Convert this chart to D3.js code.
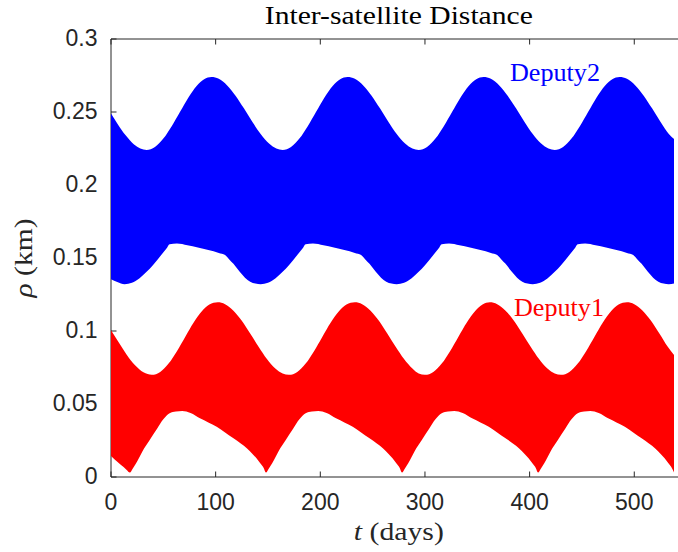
<!DOCTYPE html>
<html>
<head>
<meta charset="utf-8">
<script src="https://cdn.jsdelivr.net/npm/d3@7/dist/d3.min.js"></script>
<style>
  html, body { margin: 0; padding: 0; background: #fff; }
  svg { display: block; }
</style>
</head>
<body>
<svg id="chart" width="678" height="552"></svg>
<script>
// ---------------- data ----------------
const xTicks = [0, 100, 200, 300, 400, 500];
const yTicks = [0, 0.05, 0.1, 0.15, 0.2, 0.25, 0.3];
const yTickLabels = ["0", "0.05", "0.1", "0.15", "0.2", "0.25", "0.3"];
const seriesNames = ["Deputy1", "Deputy2"];

// Deputy2 (blue) upper envelope
const d2UpperT = [0, 6, 14, 22, 28, 34,
  42, 50, 58, 66, 74, 82, 89, 96, 103, 111, 119, 127, 135, 143, 151, 158, 164,
  172, 180, 188, 196, 204, 212, 219, 226, 233, 241, 249, 257, 265, 273, 281, 288, 294,
  302, 310, 318, 326, 334, 342, 349, 356, 363, 371, 379, 387, 395, 403, 411, 418, 424,
  432, 440, 448, 456, 464, 472, 479, 486, 493, 501, 509, 517, 525, 533, 538];
const d2Upper = [0.2490, 0.2422, 0.2340, 0.2278, 0.2250, 0.2240,
  0.2260, 0.2318, 0.2403, 0.2502, 0.2600, 0.2680, 0.2725, 0.2740, 0.2727, 0.2682, 0.2612, 0.2525, 0.2433, 0.2349, 0.2284, 0.2250, 0.2240,
  0.2260, 0.2318, 0.2403, 0.2502, 0.2600, 0.2680, 0.2725, 0.2740, 0.2727, 0.2682, 0.2612, 0.2525, 0.2433, 0.2349, 0.2284, 0.2250, 0.2240,
  0.2260, 0.2318, 0.2403, 0.2502, 0.2600, 0.2680, 0.2725, 0.2740, 0.2727, 0.2682, 0.2612, 0.2525, 0.2433, 0.2349, 0.2284, 0.2250, 0.2240,
  0.2260, 0.2318, 0.2403, 0.2502, 0.2600, 0.2680, 0.2725, 0.2740, 0.2727, 0.2682, 0.2612, 0.2525, 0.2433, 0.2349, 0.2315];

// Deputy2 (blue) lower envelope
const d2LowerT = [0, 6, 13,
  20, 27, 34, 40, 48, 53, 56, 63, 73, 83, 93, 103, 109, 113, 117, 123, 128, 133, 138, 143,
  150, 157, 164, 170, 178, 183, 186, 193, 203, 213, 223, 233, 239, 243, 247, 253, 258, 263, 268, 273,
  280, 287, 294, 300, 308, 313, 316, 323, 333, 343, 353, 363, 369, 373, 377, 383, 388, 393, 398, 403,
  410, 417, 424, 430, 438, 443, 446, 453, 463, 473, 483, 493, 499, 503, 507, 513, 518, 523, 528, 533, 538];
const d2Lower = [0.1355, 0.1335, 0.1320,
  0.1330, 0.1360, 0.1405, 0.1450, 0.1520, 0.1565, 0.1595, 0.1600, 0.1588, 0.1572, 0.1555, 0.1535, 0.1520, 0.1490, 0.1460, 0.1405, 0.1365, 0.1338, 0.1325, 0.1320,
  0.1330, 0.1360, 0.1405, 0.1450, 0.1520, 0.1565, 0.1595, 0.1600, 0.1588, 0.1572, 0.1555, 0.1535, 0.1520, 0.1490, 0.1460, 0.1405, 0.1365, 0.1338, 0.1325, 0.1320,
  0.1330, 0.1360, 0.1405, 0.1450, 0.1520, 0.1565, 0.1595, 0.1600, 0.1588, 0.1572, 0.1555, 0.1535, 0.1520, 0.1490, 0.1460, 0.1405, 0.1365, 0.1338, 0.1325, 0.1320,
  0.1330, 0.1360, 0.1405, 0.1450, 0.1520, 0.1565, 0.1595, 0.1600, 0.1588, 0.1572, 0.1555, 0.1535, 0.1520, 0.1490, 0.1460, 0.1405, 0.1365, 0.1338, 0.1325, 0.1320, 0.1326];

// Deputy1 (red) upper envelope
const d1UpperT = [0, 7, 15, 23, 31, 39,
  47, 55, 63, 71, 79, 87, 94, 102, 109, 117, 125, 133, 141, 149, 157, 164, 170,
  178, 186, 194, 202, 210, 218, 225, 233, 240, 248, 256, 264, 272, 280, 288, 294, 300,
  308, 316, 324, 332, 340, 348, 355, 362, 369, 377, 385, 393, 401, 409, 417, 424, 430,
  438, 446, 454, 462, 470, 478, 485, 493, 500, 508, 516, 524, 532, 538];
const d1Upper = [0.1005, 0.0926, 0.0838, 0.0765, 0.0717, 0.0700,
  0.0720, 0.0777, 0.0862, 0.0961, 0.1058, 0.1137, 0.1182, 0.1197, 0.1184, 0.1139, 0.1070, 0.0983, 0.0892, 0.0808, 0.0743, 0.0709, 0.0700,
  0.0720, 0.0777, 0.0862, 0.0961, 0.1058, 0.1137, 0.1182, 0.1197, 0.1184, 0.1139, 0.1070, 0.0983, 0.0892, 0.0808, 0.0743, 0.0709, 0.0700,
  0.0720, 0.0777, 0.0862, 0.0961, 0.1058, 0.1137, 0.1182, 0.1197, 0.1184, 0.1139, 0.1070, 0.0983, 0.0892, 0.0808, 0.0743, 0.0709, 0.0700,
  0.0720, 0.0777, 0.0862, 0.0961, 0.1058, 0.1137, 0.1182, 0.1197, 0.1184, 0.1139, 0.1070, 0.0983, 0.0892, 0.0835];

// Deputy1 (red) lower envelope
const d1LowerT = [0, 6, 12, 15, 18,
  21, 24, 30, 37, 44, 50, 56, 62, 68, 76, 85, 93, 101, 109, 117, 124, 130, 135, 139, 143, 146, 148,
  151, 154, 160, 167, 174, 180, 186, 192, 198, 206, 215, 223, 231, 239, 247, 254, 260, 265, 269, 273, 276, 278,
  281, 284, 290, 297, 304, 310, 316, 322, 328, 336, 345, 353, 361, 369, 377, 384, 390, 395, 399, 403, 406, 408,
  411, 414, 420, 427, 434, 440, 446, 452, 458, 466, 475, 483, 491, 499, 507, 514, 520, 525, 529, 533, 536, 538];
const d1Lower = [0.0144, 0.0105, 0.0068, 0.0048, 0.0030,
  0.0060, 0.0094, 0.0175, 0.0253, 0.0330, 0.0395, 0.0436, 0.0448, 0.0452, 0.0438, 0.0402, 0.0374, 0.0345, 0.0305, 0.0265, 0.0230, 0.0196, 0.0160, 0.0128, 0.0090, 0.0060, 0.0030,
  0.0060, 0.0094, 0.0175, 0.0253, 0.0330, 0.0395, 0.0436, 0.0448, 0.0452, 0.0438, 0.0402, 0.0374, 0.0345, 0.0305, 0.0265, 0.0230, 0.0196, 0.0160, 0.0128, 0.0090, 0.0060, 0.0030,
  0.0060, 0.0094, 0.0175, 0.0253, 0.0330, 0.0395, 0.0436, 0.0448, 0.0452, 0.0438, 0.0402, 0.0374, 0.0345, 0.0305, 0.0265, 0.0230, 0.0196, 0.0160, 0.0128, 0.0090, 0.0060, 0.0030,
  0.0060, 0.0094, 0.0175, 0.0253, 0.0330, 0.0395, 0.0436, 0.0448, 0.0452, 0.0438, 0.0402, 0.0374, 0.0345, 0.0305, 0.0265, 0.0230, 0.0196, 0.0160, 0.0128, 0.0090, 0.0060, 0.0030];

// ---------------- layout ----------------
const W = 678, H = 552;
const plot = { left: 111, right: 686.6, top: 39, bottom: 477 };
const axisColor = "#262626";
const sans = "'Liberation Sans', Arial, Helvetica, sans-serif";
const serif = "'Liberation Serif', 'Times New Roman', serif";

const svg = d3.select("#chart");
const x = d3.scaleLinear().domain([0, 550]).range([plot.left, plot.right]);
const y = d3.scaleLinear().domain([0, 0.3]).range([plot.bottom, plot.top]);

const zip = (ts, vs) => ts.map((t, i) => [t, vs[i]]);

// ---------------- axes box & ticks (drawn below data) ----------------
const axes = svg.append("g");
const tickLen = 5.5;
axes.append("line").attr("x1", plot.left).attr("x2", plot.right + 5)
  .attr("y1", plot.top).attr("y2", plot.top).attr("stroke", axisColor).attr("stroke-width", 1);
axes.append("line").attr("x1", plot.left).attr("x2", plot.right + 5)
  .attr("y1", plot.bottom).attr("y2", plot.bottom).attr("stroke", axisColor).attr("stroke-width", 1);
axes.append("line").attr("x1", plot.left).attr("x2", plot.left)
  .attr("y1", plot.top).attr("y2", plot.bottom).attr("stroke", axisColor).attr("stroke-width", 1);

xTicks.forEach(t => {
  axes.append("line").attr("x1", x(t)).attr("x2", x(t))
    .attr("y1", plot.bottom).attr("y2", plot.bottom - tickLen)
    .attr("stroke", axisColor).attr("stroke-width", 1);
  axes.append("line").attr("x1", x(t)).attr("x2", x(t))
    .attr("y1", plot.top).attr("y2", plot.top + tickLen)
    .attr("stroke", axisColor).attr("stroke-width", 1);
  axes.append("text").attr("x", x(t)).attr("y", 509.5)
    .attr("text-anchor", "middle").attr("font-family", sans).attr("font-size", 23)
    .attr("fill", axisColor).text(String(t));
});
yTicks.forEach((v, i) => {
  axes.append("line").attr("x1", plot.left).attr("x2", plot.left + tickLen)
    .attr("y1", y(v)).attr("y2", y(v))
    .attr("stroke", axisColor).attr("stroke-width", 1);
  axes.append("text").attr("x", 97.5).attr("y", y(v) + 7.4)
    .attr("text-anchor", "end").attr("font-family", sans).attr("font-size", 23)
    .attr("fill", axisColor).text(yTickLabels[i]);
});

// ---------------- bands ----------------
const defs = svg.append("defs");
const curve = d3.curveMonotoneX;

function band(id, upperT, upper, lowerT, lower, color) {
  const aboveLower = d3.area().curve(curve)
    .x(d => x(d[0])).y0(plot.top - 20).y1(d => y(d[1]));
  const belowUpper = d3.area().curve(curve)
    .x(d => x(d[0])).y0(plot.bottom + 20).y1(d => y(d[1]));
  defs.append("clipPath").attr("id", id)
    .append("path").attr("d", aboveLower(zip(lowerT, lower)));
  svg.append("path")
    .attr("d", belowUpper(zip(upperT, upper)))
    .attr("fill", color)
    .attr("clip-path", `url(#${id})`);
}
band("clipD2", d2UpperT, d2Upper, d2LowerT, d2Lower, "#0000ff");
band("clipD1", d1UpperT, d1Upper, d1LowerT, d1Lower, "#ff0000");

// ---------------- labels ----------------
svg.append("text").attr("x", 510).attr("y", 81)
  .attr("font-family", serif).attr("font-size", 25).attr("fill", "#0000ff")
  .attr("textLength", 90).attr("lengthAdjust", "spacingAndGlyphs")
  .text(seriesNames[1]);
svg.append("text").attr("x", 514).attr("y", 316)
  .attr("font-family", serif).attr("font-size", 25).attr("fill", "#ff0000")
  .attr("textLength", 90).attr("lengthAdjust", "spacingAndGlyphs")
  .text(seriesNames[0]);

// title
svg.append("text").attr("x", (plot.left + plot.right) / 2).attr("y", 24)
  .attr("text-anchor", "middle").attr("font-family", serif).attr("font-size", 25)
  .attr("fill", "#000").attr("textLength", 268).attr("lengthAdjust", "spacingAndGlyphs")
  .text("Inter-satellite Distance");

// x label
const xl = svg.append("text").attr("x", (plot.left + plot.right) / 2).attr("y", 540)
  .attr("text-anchor", "middle").attr("font-family", serif).attr("font-size", 25)
  .attr("fill", axisColor).attr("textLength", 90).attr("lengthAdjust", "spacingAndGlyphs");
xl.append("tspan").attr("font-style", "italic").text("t");
xl.append("tspan").text(" (days)");

// y label
const yl = svg.append("text")
  .attr("transform", `translate(32, ${(plot.top + plot.bottom) / 2}) rotate(-90)`)
  .attr("text-anchor", "middle").attr("font-family", serif).attr("font-size", 25)
  .attr("fill", axisColor).attr("textLength", 79).attr("lengthAdjust", "spacingAndGlyphs");
yl.append("tspan").attr("font-style", "italic").text("ρ");
yl.append("tspan").text(" (km)");
</script>
</body>
</html>
